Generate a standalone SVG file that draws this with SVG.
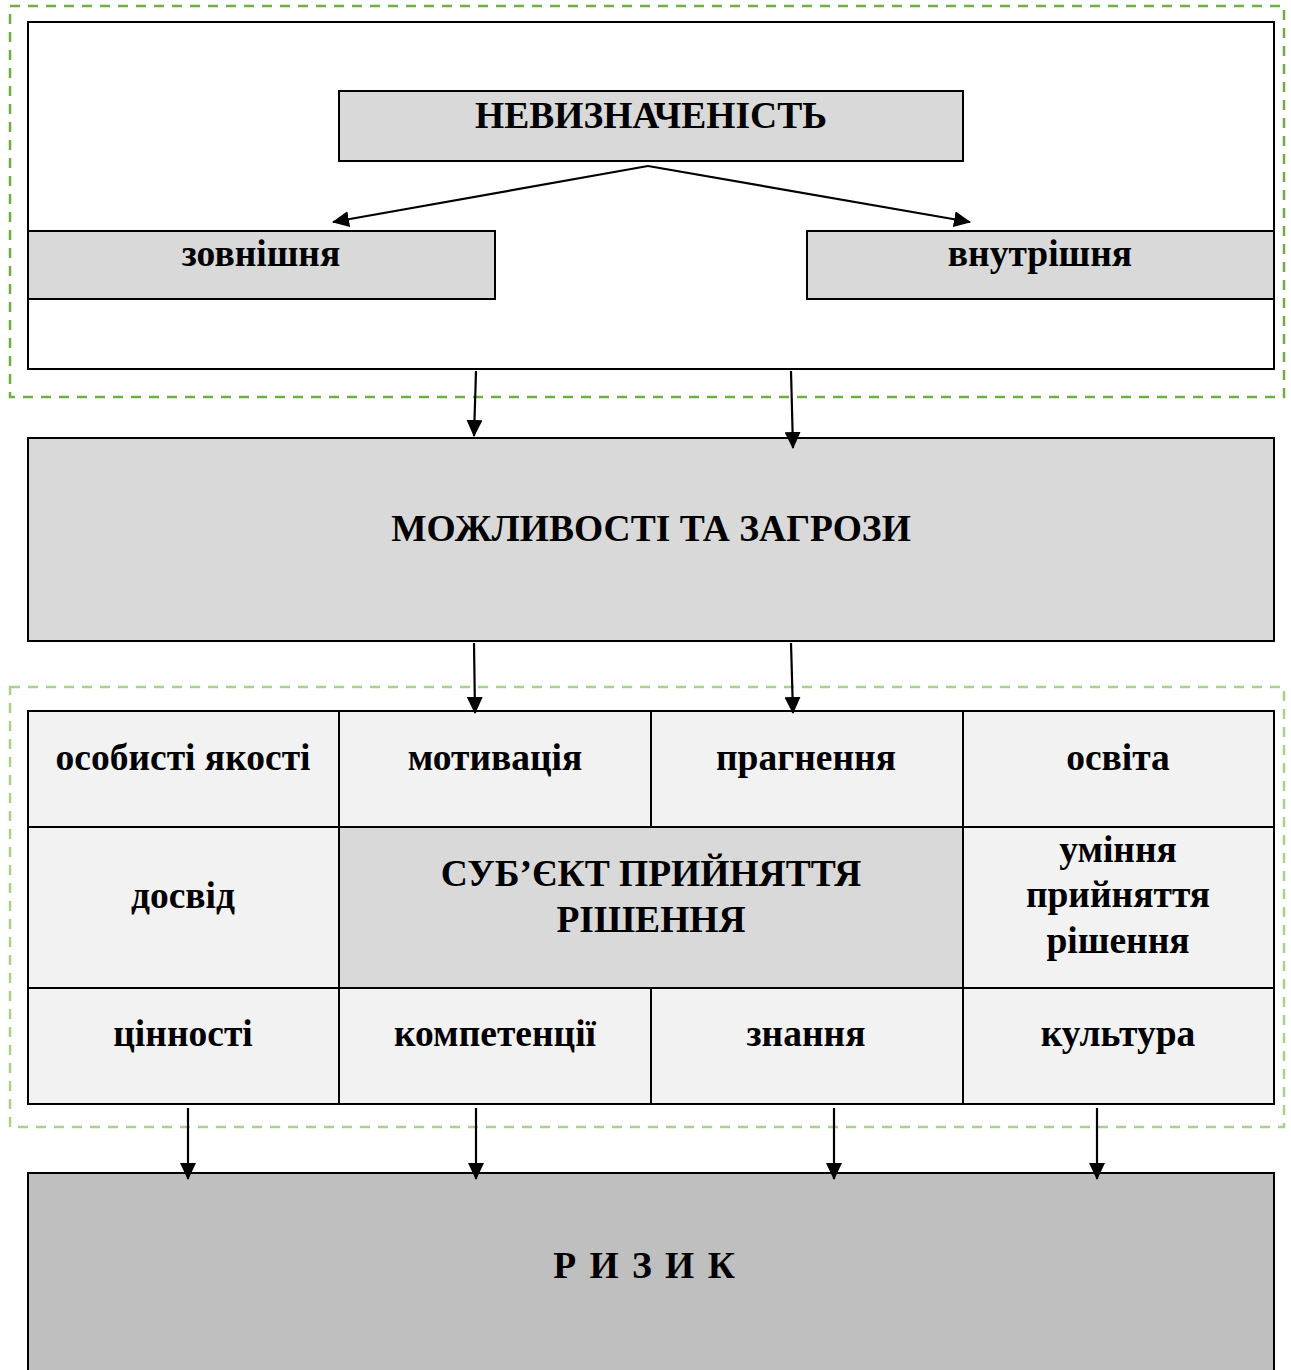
<svg xmlns="http://www.w3.org/2000/svg" width="1291" height="1370" viewBox="0 0 1291 1370">
<defs>
<marker id="ah" markerUnits="userSpaceOnUse" markerWidth="17" markerHeight="16" refX="16" refY="8" orient="auto">
<path d="M0,0 L17,8 L0,16 Z" fill="#000"/>
</marker>
<style>
.box{stroke:#000;stroke-width:2}
.g1{fill:#D9D9D9}
.g2{fill:#F2F2F2}
.g3{fill:#BFBFBF}
.t{font-family:"Liberation Serif","Times New Roman",serif;font-weight:bold;fill:#000;text-anchor:middle}
.big{font-size:37.5px}
.sm{font-size:37.5px}
.conn line{stroke:#000;stroke-width:2.2;marker-end:url(#ah)}
</style>
</defs>
<rect width="1291" height="1370" fill="#fff"/>
<g id="frame-top">
<rect x="10" y="6" width="1274" height="391" fill="none" stroke="#70AD47" stroke-width="2.5" stroke-dasharray="10 8"/>
<rect x="28" y="22" width="1246" height="347" fill="#fff" class="box"/>
</g>
<g id="frame-subject">
<rect x="10" y="687" width="1274" height="440" fill="none" stroke="#A9D18E" stroke-width="2.5" stroke-dasharray="10 8"/>
</g>
<g id="n-nevyznachenist">
<rect x="339" y="91" width="624" height="70" class="box g1"/>
<text x="651" y="128" class="t big">НЕВИЗНАЧЕНІСТЬ</text>
</g>
<g id="n-zovnishnia">
<rect x="28" y="231" width="467" height="68" class="box g1"/>
<text x="261" y="266" class="t sm">зовнішня</text>
</g>
<g id="n-vnutrishnia">
<rect x="807" y="231" width="467" height="68" class="box g1"/>
<text x="1040" y="266" class="t sm">внутрішня</text>
</g>
<g id="n-mozhlyvosti">
<rect x="28" y="438" width="1246" height="203" class="box g1"/>
<text x="651" y="541" class="t big">МОЖЛИВОСТІ ТА ЗАГРОЗИ</text>
</g>
<g id="n-grid">
<rect x="28" y="711" width="1246" height="393" class="box g2"/>
<g id="n-osobysti"><rect x="28" y="711" width="311" height="116" class="box g2"/><text x="183" y="770" class="t sm">особисті якості</text></g>
<g id="n-motyvatsiia"><rect x="339" y="711" width="312" height="116" class="box g2"/><text x="495" y="770" class="t sm">мотивація</text></g>
<g id="n-prahnennia"><rect x="651" y="711" width="312" height="116" class="box g2"/><text x="806" y="770" class="t sm">прагнення</text></g>
<g id="n-osvita"><rect x="963" y="711" width="311" height="116" class="box g2"/><text x="1118" y="770" class="t sm">освіта</text></g>
<g id="n-dosvid"><rect x="28" y="827" width="311" height="161" class="box g2"/><text x="183" y="908" class="t sm">досвід</text></g>
<g id="n-subiekt"><rect x="339" y="827" width="624" height="161" class="box g1"/><text x="651" y="886" class="t big">СУБ’ЄКТ ПРИЙНЯТТЯ</text><text x="651" y="932" class="t big">РІШЕННЯ</text></g>
<g id="n-uminnia"><rect x="963" y="827" width="311" height="161" class="box g2"/><text x="1118" y="862" class="t sm">уміння</text><text x="1118" y="907" class="t sm">прийняття</text><text x="1118" y="953" class="t sm">рішення</text></g>
<g id="n-tsinnosti"><rect x="28" y="988" width="311" height="116" class="box g2"/><text x="183" y="1046" class="t sm">цінності</text></g>
<g id="n-kompetentsii"><rect x="339" y="988" width="312" height="116" class="box g2"/><text x="495" y="1046" class="t sm">компетенції</text></g>
<g id="n-znannia"><rect x="651" y="988" width="312" height="116" class="box g2"/><text x="806" y="1046" class="t sm">знання</text></g>
<g id="n-kultura"><rect x="963" y="988" width="311" height="116" class="box g2"/><text x="1118" y="1046" class="t sm">культура</text></g>
</g>
<g id="n-ryzyk">
<rect x="28" y="1173" width="1246" height="210" class="box g3"/>
<text x="645" y="1278" class="t big" letter-spacing="2">Р И З И К</text>
</g>
<g id="connectors" class="conn">
<line x1="648" y1="166" x2="333" y2="222"/>
<line x1="648" y1="166" x2="970" y2="222"/>
<line x1="476" y1="371" x2="474" y2="436"/>
<line x1="791" y1="371" x2="793" y2="448"/>
<line x1="474" y1="643" x2="475" y2="713"/>
<line x1="791" y1="643" x2="793" y2="713"/>
<line x1="188" y1="1108" x2="188" y2="1179"/>
<line x1="476" y1="1108" x2="476" y2="1179"/>
<line x1="834" y1="1108" x2="834" y2="1179"/>
<line x1="1097" y1="1108" x2="1097" y2="1179"/>
</g>
</svg>
